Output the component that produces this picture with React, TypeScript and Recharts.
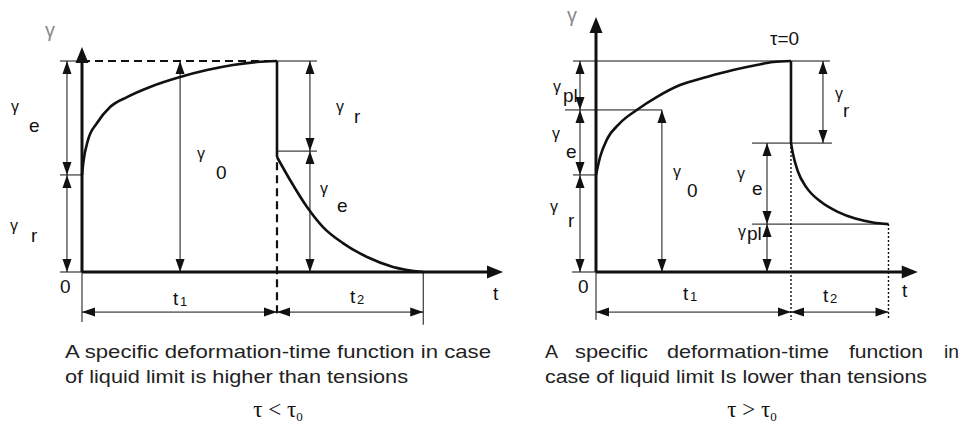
import { LineChart, Line, XAxis, YAxis, ReferenceLine, ReferenceDot } from "recharts";

// units: t1 = 10 time units, gamma0 = 10 strain units (both panels)
const creepLeft = [
  { t: 0, g: 4.6 }, { t: 0.07, g: 5.2 }, { t: 0.31, g: 6.26 }, { t: 0.77, g: 7.06 },
  { t: 1.44, g: 7.82 }, { t: 2.31, g: 8.29 }, { t: 3.49, g: 8.77 }, { t: 5.03, g: 9.24 },
  { t: 6.41, g: 9.57 }, { t: 7.74, g: 9.81 }, { t: 8.97, g: 9.95 }, { t: 10, g: 10 },
];
const recoveryLeft = [
  { t: 10, g: 5.45 }, { t: 10.67, g: 4.36 }, { t: 11.54, g: 3.08 }, { t: 12.36, g: 2.13 },
  { t: 13.38, g: 1.37 }, { t: 14.62, g: 0.71 }, { t: 15.95, g: 0.24 }, { t: 17.5, g: 0 },
];
const creepRight = [
  { t: 0, g: 4.6 }, { t: 0.21, g: 5.45 }, { t: 0.55, g: 6.26 }, { t: 1.23, g: 7.06 },
  { t: 2.09, g: 7.68 }, { t: 3.11, g: 8.29 }, { t: 4.31, g: 8.86 }, { t: 5.68, g: 9.24 },
  { t: 7.03, g: 9.57 }, { t: 8.24, g: 9.81 }, { t: 9.08, g: 9.95 }, { t: 10, g: 10 },
];
const recoveryRight = [
  { t: 10, g: 6.11 }, { t: 10.1, g: 5.6 }, { t: 10.34, g: 4.8 }, { t: 10.8, g: 4.0 },
  { t: 11.5, g: 3.35 }, { t: 12.4, g: 2.85 }, { t: 13.3, g: 2.53 }, { t: 14.2, g: 2.35 },
  { t: 15, g: 2.27 },
];

type Kind = "axis" | "dim" | "thin" | "bold" | "dash" | "dot";
type Seg = [number, number, number, number, Kind];

const segsLeft: Seg[] = [
  [-1.13, 10, 0, 10, "thin"], [10, 10, 12.05, 10, "thin"], [-1.13, 4.6, 0, 4.6, "thin"],
  [10, 5.73, 12.05, 5.73, "thin"], [-1.13, 0, 0, 0, "thin"], [0, 0, 0, -2.37, "thin"],
  [17.5, 0, 17.5, -2.5, "thin"],
  [0, 10, 10, 10, "dash"], [10, 5.2, 10, -2.18, "dash"], [10, 10, 10, 5.45, "bold"],
  [-0.77, 10, -0.77, 4.6, "dim"], [-0.77, 4.6, -0.77, 0, "dim"], [5.03, 10, 5.03, 0, "dim"],
  [11.69, 10, 11.69, 5.73, "dim"], [11.69, 5.73, 11.69, 0, "dim"],
  [0, -1.9, 10, -1.9, "dim"], [10, -1.9, 17.5, -1.9, "dim"],
  [0, 0, 0, 10.66, "axis"], [0, 0, 21.59, 0, "axis"],
];
const segsRight: Seg[] = [
  [-1.23, 0, 0, 0, "thin"], [-1.18, 10, 12.0, 10, "thin"], [-1.59, 7.68, 3.38, 7.68, "thin"],
  [-1.18, 4.6, 0, 4.6, "thin"], [8.0, 6.11, 12.1, 6.11, "thin"], [8.0, 2.27, 15, 2.27, "thin"],
  [0, 0, 0, -2.27, "thin"],
  [10, 6.11, 10, -2.27, "dot"], [15, 2.27, 15, -2.27, "dot"], [10, 10, 10, 6.11, "bold"],
  [-0.82, 10, -0.82, 7.68, "dim"], [-0.82, 7.68, -0.82, 4.6, "dim"], [-0.82, 4.6, -0.82, 0, "dim"],
  [3.38, 7.68, 3.38, 0, "dim"], [11.64, 10, 11.64, 6.11, "dim"],
  [8.77, 6.11, 8.77, 2.27, "dim"], [8.77, 2.27, 8.77, 0, "dim"],
  [0, -1.9, 10, -1.9, "dim"], [10, -1.9, 15, -1.9, "dim"],
  [0, 0, 0, 12.09, "axis"], [0, 0, 16.5, 0, "axis"],
];

type GLabel = [number, number, string, number, number];
const gammaLeft: GLabel[] = [
  [-3.64, 7.58, "e", 18, 20], [-3.69, 1.94, "r", 21, 11], [5.9, 5.36, "0", 19, 20],
  [13.03, 7.58, "r", 18, 11], [12.21, 3.7, "e", 17, 18],
];
const gammaRight: GLabel[] = [
  [-2.21, 8.53, "pl", 10, 10], [-2.26, 6.3, "e", 14, 19], [-2.36, 2.84, "r", 18, 15],
  [3.95, 4.5, "0", 14, 20], [12.26, 8.2, "r", 8, 18], [7.23, 4.41, "e", 15, 16],
  [7.28, 1.66, "pl", 9, 3],
];

type TLabel = [number, number, string, string];
const textLeft: TLabel[] = [
  [-1.13, -1.0, "0", ""], [4.67, -1.56, "t", "1"], [13.74, -1.47, "t", "2"],
  [21.08, -1.33, "t", ""], [-1.9, 11.14, "γ", ""],
];
const textRight: TLabel[] = [
  [-0.92, -1.0, "0", ""], [4.46, -1.33, "t", "1"], [11.64, -1.42, "t", "2"],
  [15.69, -1.18, "t", ""], [-1.49, 11.85, "γ", ""], [8.92, 10.76, "τ=0", ""],
];

const Y_DOM: [number, number] = [-7.488, 12.891];
const X_DOM_L: [number, number] = [-4.205, 22.462];
const X_DOM_R: [number, number] = [-5.949, 18.821];

const FONT = "'Liberation Sans', Arial, sans-serif";
const INK = "#111";

const tri = (x: number, y: number, ux: number, uy: number, len: number, half: number) => {
  const bx = x - ux * len, by = y - uy * len;
  return `${x},${y} ${bx - uy * half},${by + ux * half} ${bx + uy * half},${by - ux * half}`;
};

const segShape = (kind: Kind) => (p: any) => {
  const { x1, y1, x2, y2 } = p;
  const L = Math.hypot(x2 - x1, y2 - y1) || 1;
  const ux = (x2 - x1) / L, uy = (y2 - y1) / L;
  if (kind === "axis") {
    return (
      <g>
        <line x1={x1} y1={y1} x2={x2 - ux * 8} y2={y2 - uy * 8} stroke={INK} strokeWidth={3} />
        <polygon points={tri(x2, y2, ux, uy, 16, 6.5)} fill={INK} />
      </g>
    );
  }
  if (kind === "dim") {
    return (
      <g>
        <line x1={x1} y1={y1} x2={x2} y2={y2} stroke={INK} strokeWidth={1} />
        <polygon points={tri(x2, y2, ux, uy, 13, 4.5)} fill={INK} />
        <polygon points={tri(x1, y1, -ux, -uy, 13, 4.5)} fill={INK} />
      </g>
    );
  }
  const w = { thin: 1, bold: 2.6, dash: 2.2, dot: 1.4 }[kind];
  const dash = kind === "dash" ? "8 5" : kind === "dot" ? "2 2" : undefined;
  return <line x1={x1} y1={y1} x2={x2} y2={y2} stroke={INK} strokeWidth={w} strokeDasharray={dash} />;
};

const gammaShape = (sub: string, dx: number, dy: number) => (p: any) => (
  <text fontFamily={FONT} fill={INK}>
    <tspan x={p.cx} y={p.cy} fontSize={16}>γ</tspan>
    <tspan x={p.cx + dx} y={p.cy + dy} fontSize={19}>{sub}</tspan>
  </text>
);

const textShape = (txt: string, sub: string) => (p: any) => (
  <text fontFamily={FONT} fill={txt === "γ" ? "#8a8a8a" : INK}>
    <tspan x={p.cx} y={p.cy} fontSize={txt === "γ" ? 20 : 19}>{txt}</tspan>
    {sub && <tspan x={p.cx + 7} y={p.cy + 1} fontSize={13}>{sub}</tspan>}
  </text>
);

function Panel(props: {
  left: number; width: number; xDomain: [number, number];
  curves: { t: number; g: number }[][]; segs: Seg[]; gammas: GLabel[]; texts: TLabel[];
}) {
  const { left, width, xDomain, curves, segs, gammas, texts } = props;
  return (
    <div style={{ position: "absolute", left, top: 0 }}>
      <LineChart width={width} height={430} margin={{ top: 0, right: 0, bottom: 0, left: 0 }}>
        <XAxis type="number" dataKey="t" domain={xDomain} hide allowDataOverflow />
        <YAxis type="number" dataKey="g" domain={Y_DOM} hide allowDataOverflow />
        {curves.map((c, i) => (
          <Line
            key={"c" + i}
            data={c}
            dataKey="g"
            type="monotone"
            stroke={INK}
            strokeWidth={2.6}
            dot={false}
            activeDot={false}
            legendType="none"
            isAnimationActive={false}
          />
        ))}
        {segs.map((s, i) => (
          <ReferenceLine
            key={"s" + i}
            segment={[{ x: s[0], y: s[1] }, { x: s[2], y: s[3] }]}
            ifOverflow="visible"
            shape={segShape(s[4])}
          />
        ))}
        {gammas.map((g, i) => (
          <ReferenceDot key={"g" + i} x={g[0]} y={g[1]} r={0} ifOverflow="visible" shape={gammaShape(g[2], g[3], g[4])} />
        ))}
        {texts.map((tx, i) => (
          <ReferenceDot key={"t" + i} x={tx[0]} y={tx[1]} r={0} ifOverflow="visible" shape={textShape(tx[2], tx[3])} />
        ))}
      </LineChart>
    </div>
  );
}

const rightWords: [string, number, number][] = [
  ["A", 545, 13], ["specific", 575, 73], ["deformation-time", 667, 162], ["function", 849, 74], ["in", 944, 15],
];

export default function App() {
  return (
    <div style={{ position: "absolute", left: 0, top: 0, width: 963, height: 430, background: "#fff" }}>
      <Panel left={0} width={520} xDomain={X_DOM_L} curves={[creepLeft, recoveryLeft]} segs={segsLeft} gammas={gammaLeft} texts={textLeft} />
      <Panel left={480} width={483} xDomain={X_DOM_R} curves={[creepRight, recoveryRight]} segs={segsRight} gammas={gammaRight} texts={textRight} />
      <svg width={963} height={430} style={{ position: "absolute", left: 0, top: 0, pointerEvents: "none" }}>
        <g fontFamily={FONT} fontSize={19} fill="#222">
          <text x={65} y={358} textLength={426} lengthAdjust="spacingAndGlyphs">A specific deformation-time function in case</text>
          <text x={65} y={383} textLength={343} lengthAdjust="spacingAndGlyphs">of liquid limit is higher than tensions</text>
          {rightWords.map(([w, x, len]) => (
            <text key={w} x={x} y={358} textLength={len} lengthAdjust="spacingAndGlyphs">{w}</text>
          ))}
          <text x={545} y={383} textLength={382} lengthAdjust="spacingAndGlyphs">case of liquid limit Is lower than tensions</text>
        </g>
        <g fontFamily="'Liberation Serif', 'DejaVu Serif', serif" fill="#111" textAnchor="middle">
          <text x={278} y={417} fontSize={23}>τ &lt; τ<tspan fontSize={13} dy={4}>0</tspan></text>
          <text x={752} y={417} fontSize={23}>τ &gt; τ<tspan fontSize={13} dy={4}>0</tspan></text>
        </g>
      </svg>
    </div>
  );
}
